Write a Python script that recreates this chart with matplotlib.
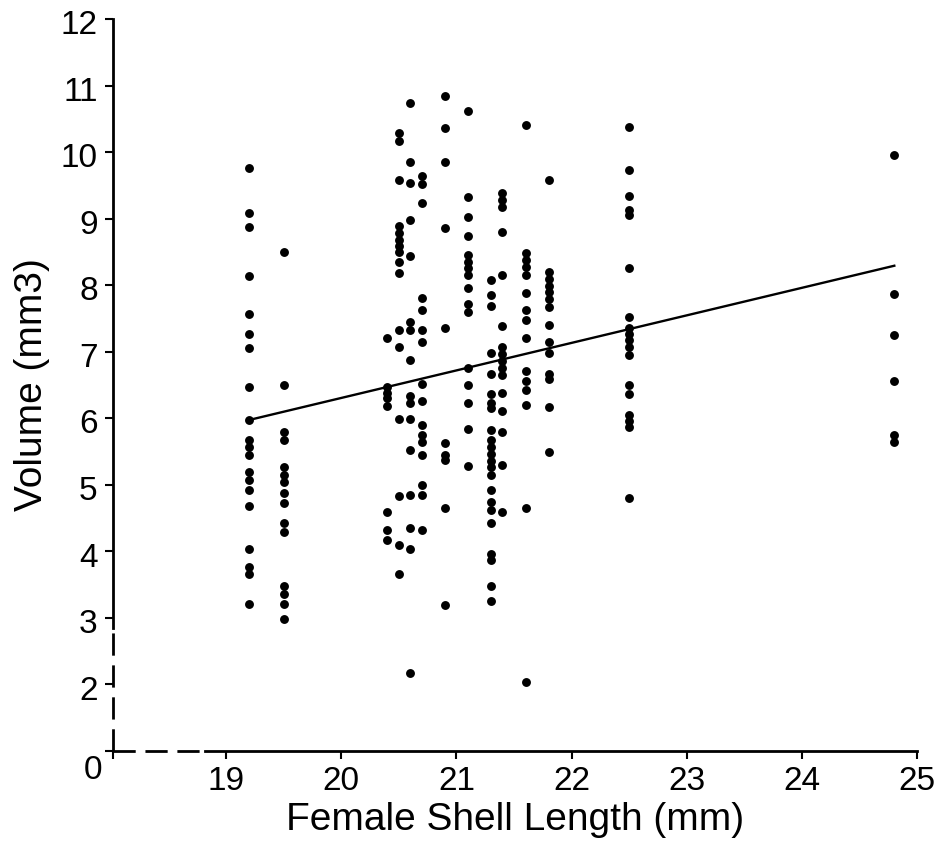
import matplotlib
matplotlib.use("Agg")
import matplotlib.pyplot as plt
from matplotlib.transforms import ScaledTranslation

plt.rcParams['font.family'] = ['Liberation Sans', 'DejaVu Sans']

# ---- data ----
shell_length = {
    19.2: [9.76, 9.08, 8.87, 8.14, 7.56, 7.27, 7.06, 6.47, 5.97, 5.67, 5.57, 5.44,
           5.19, 5.07, 4.92, 4.68, 4.03, 3.76, 3.66, 3.20],
    19.5: [8.49, 6.50, 5.79, 5.67, 5.27, 5.14, 5.04, 4.87, 4.72, 4.42, 4.28,
           3.47, 3.35, 3.20, 2.98],
    20.4: [7.20, 6.47, 6.38, 6.30, 6.18, 4.58, 4.31, 4.16],
    20.5: [10.28, 10.16, 9.58, 8.88, 8.78, 8.68, 8.58, 8.49, 8.34, 8.18, 7.33, 7.07,
           5.98, 4.82, 4.09, 3.66],
    20.6: [10.73, 9.85, 9.53, 8.98, 8.44, 7.45, 7.33, 6.87, 6.33, 6.23, 5.98, 5.52,
           4.84, 4.34, 4.03, 2.16],
    20.7: [9.64, 9.52, 9.24, 7.80, 7.62, 7.33, 7.15, 6.51, 6.25, 5.90, 5.74, 5.64,
           5.44, 4.99, 4.84, 4.32],
    20.9: [10.84, 10.36, 9.85, 8.85, 7.36, 5.63, 5.44, 5.37, 4.64, 3.19],
    21.1: [10.62, 9.33, 9.03, 8.74, 8.45, 8.35, 8.25, 8.15, 7.95, 7.71, 7.60, 6.75,
           6.50, 6.22, 5.84, 5.28],
    21.3: [8.08, 7.85, 7.68, 6.98, 6.66, 6.36, 6.22, 6.15, 5.82, 5.67, 5.56, 5.46,
           5.36, 5.26, 5.14, 4.92, 4.73, 4.61, 4.42, 3.96, 3.86, 3.47, 3.25],
    21.4: [9.38, 9.28, 9.18, 8.79, 8.15, 7.38, 7.07, 6.97, 6.85, 6.75, 6.65, 6.37,
           6.10, 5.79, 5.29, 4.58],
    21.6: [10.41, 8.48, 8.38, 8.27, 8.15, 7.88, 7.63, 7.48, 7.21, 6.71, 6.55, 6.42,
           6.20, 4.64, 2.03],
    21.8: [9.58, 8.20, 8.09, 7.99, 7.89, 7.79, 7.67, 7.40, 7.15, 6.98, 6.66, 6.59,
           6.17, 5.49],
    22.5: [10.38, 9.73, 9.34, 9.13, 9.05, 8.25, 7.52, 7.36, 7.27, 7.18, 7.07, 6.95,
           6.50, 6.36, 6.04, 5.95, 5.87, 4.79],
    24.8: [9.95, 7.87, 7.25, 6.55, 5.74, 5.64],
}
trend_x = [19.2, 24.8]
trend_y = [5.97, 8.29]

x_ticks = [19, 20, 21, 22, 23, 24, 25]
y_ticks = [2, 3, 4, 5, 6, 7, 8, 9, 10, 11, 12]
x_origin, y_origin = 18.02, 1.0
x_break, y_break = 18.82, 2.84

xs, ys = [], []
for k, vals in shell_length.items():
    xs += [k] * len(vals)
    ys += vals

# ---- figure ----
fig = plt.figure(figsize=(9.43, 8.56), dpi=100)
ax = fig.add_axes([0.1198, 0.1232, 0.8530, 0.8546])
ax.set_xlim(x_origin, 25)
ax.set_ylim(y_origin, 12)

ax.plot(xs, ys, 'o', color='black', markersize=6.4, markeredgewidth=0, clip_on=False)
ax.plot(trend_x, trend_y, '-', color='black', lw=1.7)

for s in ['top', 'right']:
    ax.spines[s].set_visible(False)
axlw = 2.0
ax.spines['left'].set_linewidth(axlw)
ax.spines['bottom'].set_linewidth(axlw)
ax.spines['left'].set_bounds(y_break, 12)
ax.spines['bottom'].set_bounds(x_break, 25)
ax.spines['left'].set_position(('data', x_origin))
ax.spines['bottom'].set_position(('data', y_origin))

# dashed (broken) parts of the axes
ax.plot([x_origin, x_origin], [y_origin, y_break], color='black', lw=axlw,
        dashes=(8, 3.5), clip_on=False, dash_capstyle='butt')
ax.plot([x_origin, x_break], [y_origin, y_origin], color='black', lw=axlw,
        dashes=(8, 3.5), clip_on=False, dash_capstyle='butt')

ax.set_xticks([x_origin] + x_ticks)
ax.set_xticklabels([''] + [str(t) for t in x_ticks])
ax.set_yticks([y_origin] + y_ticks)
ax.set_yticklabels(['0'] + [str(t) for t in y_ticks])
ax.tick_params(axis='both', direction='out', length=6, width=1.5, labelsize=24,
               color='black', pad=5)
# shift y tick labels slightly down, origin label to the lower-left corner
for i, lab in enumerate(ax.get_yticklabels()):
    if i == 0:
        off = ScaledTranslation(3.5 / 72, -12 / 72, fig.dpi_scale_trans)
    else:
        off = ScaledTranslation(0, -2.5 / 72, fig.dpi_scale_trans)
    lab.set_transform(lab.get_transform() + off)

ax.set_xlabel('Female Shell Length (mm)', fontsize=28, labelpad=4)
ax.set_ylabel('Volume (mm3)', fontsize=28, labelpad=8)

fig.savefig('out.png', dpi=100, facecolor='white')
